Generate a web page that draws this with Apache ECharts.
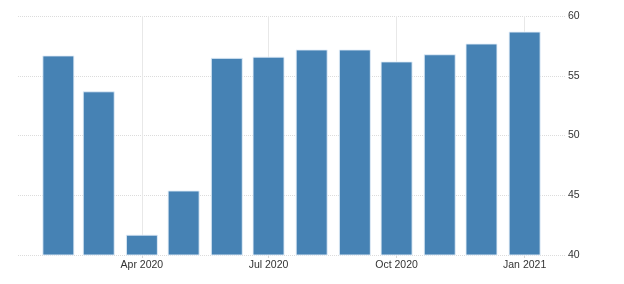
<!DOCTYPE html>
<html>
<head>
<meta charset="utf-8">
<script src="https://cdn.jsdelivr.net/npm/echarts@6/dist/echarts.min.js"></script>
<style>
html,body{margin:0;padding:0;background:#fff;}
#chart{width:624px;height:284px;}
</style>
</head>
<body>
<div id="chart"></div>
<script>
var months = ['2020-02-01','2020-03-01','2020-04-01','2020-05-01','2020-06-01','2020-07-01','2020-08-01','2020-09-01','2020-10-01','2020-11-01','2020-12-01','2021-01-01'];
var values = [56.7, 53.7, 41.7, 45.4, 56.5, 56.6, 57.2, 57.2, 56.2, 56.8, 57.7, 58.7];
var tickDates = ['2020-04-01','2020-07-01','2020-10-01','2021-01-01'];
var tickLabels = ['Apr 2020','Jul 2020','Oct 2020','Jan 2021'];
var yTicks = [40, 45, 50, 55, 60];

function ts(s){ var p = s.split('-'); return Date.UTC(+p[0], +p[1]-1, +p[2]); }
var tickTs = tickDates.map(ts);

var chart = echarts.init(document.getElementById('chart'), null, {renderer:'canvas'});
chart.setOption({
  animation: false,
  grid: {left: 18, right: 59, top: 16, bottom: 29, containLabel: false},
  xAxis: {
    type: 'value',
    min: ts('2020-01-03'),
    max: ts('2021-01-30'),
    axisLine: {show: false},
    axisTick: {show: true, length: 3, lineStyle: {color: '#d8d8d8'}, customValues: tickTs},
    axisLabel: {
      customValues: tickTs,
      color: '#333',
      fontFamily: 'Liberation Sans, Arial, sans-serif',
      fontSize: 10.5,
      margin: 5,
      formatter: function(v){
        var i = tickTs.indexOf(v);
        return i >= 0 ? tickLabels[i] : '';
      }
    },
    splitLine: {show: true, lineStyle: {color: '#e8e8e8', width: 1, type: 'solid'}}
  },
  yAxis: {
    type: 'value',
    position: 'right',
    min: yTicks[0],
    max: yTicks[yTicks.length-1],
    interval: 5,
    axisLine: {show: false},
    axisTick: {show: false},
    axisLabel: {color: '#333', fontFamily: 'Liberation Sans, Arial, sans-serif', fontSize: 10.5, margin: 3},
    splitLine: {show: true, lineStyle: {color: '#dcdcdc', width: 1, type: 'dotted'}}
  },
  series: [{
    type: 'bar',
    barWidth: 32,
    data: months.map(function(m, i){ return [ts(m), values[i]]; }),
    itemStyle: {color: '#4682b4', borderColor: 'rgba(230,240,250,0.9)', borderWidth: 1}
  }]
});
</script>
</body>
</html>
